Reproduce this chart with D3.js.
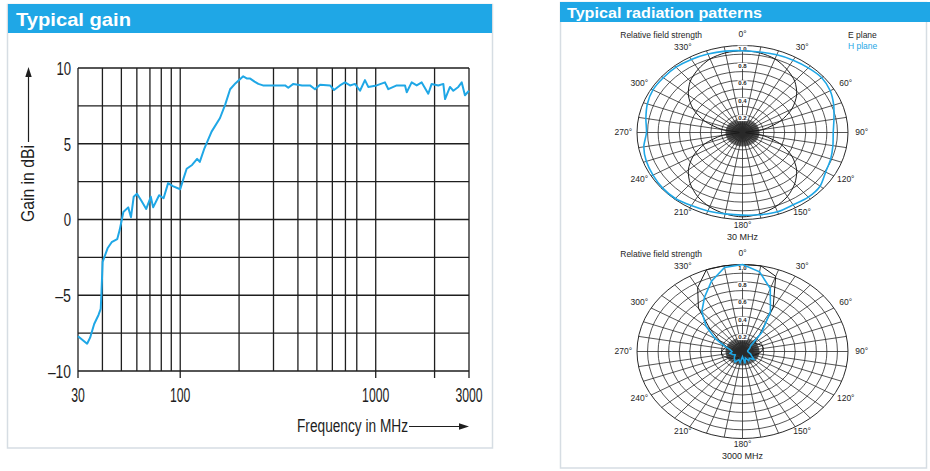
<!DOCTYPE html>
<html>
<head>
<meta charset="utf-8">
<script src="https://cdn.jsdelivr.net/npm/d3@7"></script>
<style>
  body { margin: 0; background: #fff; }
  svg { font-family: "Liberation Sans", Arial, sans-serif; }
</style>
</head>
<body>
<svg id="chart" width="930" height="471"></svg>
<script>
// typical gain
const gainFreq = [30, 33.4, 34.6, 36.3, 38.2, 39.2, 39.5, 40.1, 42.5, 44.6, 47.6, 49, 51.2, 54.2, 56, 57.8, 60.1, 63.5, 67,
  70.7, 72.7, 78, 82.2, 86.7, 91.6, 100, 103.9, 107.9, 115, 122, 125.9, 133, 144.7, 159.8, 170, 180, 192, 210, 220, 228,
  240, 251, 265, 288, 320, 344, 357, 379, 420, 461, 489, 519, 584, 612, 656, 696, 739, 783, 831, 881, 916, 1011, 1115,
  1160, 1281, 1412, 1441, 1527, 1620, 1719, 1857, 1932, 2090, 2217, 2263, 2398, 2494, 2645, 2754, 2860, 3000];
const gainDb = [-7.7, -8.2, -7.8, -6.9, -6.3, -5.9, -5.0, -2.8, -1.9, -1.5, -1.3, -0.7, 0.5, 0.8, 0.15, 1.5, 1.7, 1.2, 0.7,
  1.5, 0.8, 1.6, 1.4, 2.4, 2.2, 2.0, 2.7, 3.35, 3.6, 4.0, 3.8, 4.7, 5.8, 6.7, 7.6, 8.6, 9.0, 9.45, 9.3, 9.3,
  9.1, 8.95, 8.85, 8.85, 8.85, 8.85, 8.7, 8.95, 8.85, 8.85, 8.6, 8.9, 8.85, 8.55, 8.85, 9.05, 8.85, 8.95, 8.5, 9.2, 8.75, 8.85, 9.05,
  8.6, 8.85, 8.85, 8.4, 9.05, 8.85, 9.05, 8.3, 8.95, 8.85, 8.95, 7.95, 8.75, 8.5, 8.75, 9.05, 8.2, 8.5];

const xGridFreq = [30, 40, 50, 60, 70, 80, 90, 100, 200, 300, 400, 500, 600, 700, 800, 1000, 2000, 3000];
const xTickMarks = [30, 100, 1000, 2000, 3000];
const xTickLabels = [30, 100, 1000, 3000];
const yGridDb = [-10, -7.5, -5, -2.5, 0, 2.5, 5, 7.5, 10];
const yTickLabels = [10, 5, 0, -5, -10];

// radiation patterns, relative field strength every 10 degrees
const polarAngles = [0, 10, 20, 30, 40, 50, 60, 70, 80, 90, 100, 110, 120, 130, 140, 150, 160, 170,
  180, 190, 200, 210, 220, 230, 240, 250, 260, 270, 280, 290, 300, 310, 320, 330, 340, 350];
const angleLabels = [0, 30, 60, 90, 120, 150, 180, 210, 240, 270, 300, 330];
const ringValues = [0.1, 0.2, 0.3, 0.4, 0.5, 0.6, 0.7, 0.8, 0.9, 1.0];
const ringLabels = ["1.0", "0.8", "0.6", "0.4", "0.2"];

const ePlane30 = [0.94, 0.93, 0.9, 0.84, 0.77, 0.67, 0.54, 0.38, 0.2, 0.03, 0.2, 0.38, 0.54, 0.67, 0.77, 0.85, 0.91, 0.95,
  0.97, 0.95, 0.91, 0.85, 0.77, 0.67, 0.54, 0.38, 0.2, 0.03, 0.2, 0.38, 0.54, 0.67, 0.77, 0.84, 0.9, 0.93];
const hPlane30 = [0.94, 0.94, 0.95, 0.96, 0.97, 0.98, 0.96, 0.92, 0.88, 0.86, 0.87, 0.89, 0.91, 0.96, 0.97, 0.96, 0.97, 0.96,
  0.95, 0.95, 0.96, 0.97, 0.99, 0.99, 0.98, 0.97, 0.95, 0.91, 0.93, 0.96, 0.98, 0.98, 0.98, 0.97, 0.96, 0.95];
const ePlane3000 = [1.0, 1.0, 0.92, 0.58, 0.25, 0.15, 0.17, 0.2, 0.2, 0.18, 0.15, 0.12, 0.1, 0.08, 0.1, 0.12, 0.1, 0.08,
  0.1, 0.12, 0.1, 0.08, 0.1, 0.12, 0.15, 0.18, 0.2, 0.2, 0.18, 0.16, 0.25, 0.4, 0.65, 0.85, 1.0, 1.0];
const hPlane3000 = [1.0, 0.93, 0.77, 0.53, 0.28, 0.1, 0.08, 0.06, 0.05, 0.05, 0.06, 0.08, 0.1, 0.14, 0.1, 0.12, 0.08, 0.14,
  0.06, 0.13, 0.1, 0.14, 0.12, 0.1, 0.08, 0.1, 0.12, 0.1, 0.12, 0.18, 0.3, 0.45, 0.6, 0.72, 0.86, 0.98];

const blue = "#1fa7e6";
const ink = "#1e1e1e";
const svg = d3.select("#chart");

// ---- panels ----
svg.append("rect").attr("x", 7.5).attr("y", 4.5).attr("width", 485).attr("height", 443.5)
  .attr("fill", "#fff").attr("stroke", "#d6dde3").attr("stroke-width", 1.5);
svg.append("rect").attr("x", 8).attr("y", 4).attr("width", 484).attr("height", 29).attr("fill", blue);
svg.append("text").attr("x", 16).attr("y", 25.5).text("Typical gain")
  .attr("font-weight", "bold").attr("font-size", 19)
  .attr("textLength", 115).attr("lengthAdjust", "spacingAndGlyphs").attr("fill", "#fff");

svg.append("rect").attr("x", 560.5).attr("y", 2.5).attr("width", 366).attr("height", 465.5)
  .attr("fill", "#fff").attr("stroke", "#d6dde3").attr("stroke-width", 1.5);
svg.append("rect").attr("x", 560).attr("y", 2).attr("width", 370).attr("height", 20).attr("fill", blue);
svg.append("text").attr("x", 567).attr("y", 18).text("Typical radiation patterns")
  .attr("font-weight", "bold").attr("font-size", 15)
  .attr("textLength", 195).attr("lengthAdjust", "spacingAndGlyphs").attr("fill", "#fff");

// ---- gain chart ----
const x = d3.scaleLog().domain([30, 3000]).range([78, 469]);
const y = d3.scaleLinear().domain([-10, 10]).range([371, 68]);
const gc = svg.append("g").attr("fill", ink);

gc.selectAll(".vgrid").data(xGridFreq).enter().append("line")
  .attr("x1", d => x(d)).attr("x2", d => x(d)).attr("y1", y(10)).attr("y2", y(-10))
  .attr("stroke", ink).attr("stroke-width", 1.3);
gc.selectAll(".hgrid").data(yGridDb).enter().append("line")
  .attr("x1", x(30)).attr("x2", x(3000)).attr("y1", d => y(d)).attr("y2", d => y(d))
  .attr("stroke", ink).attr("stroke-width", 1.3);
gc.selectAll(".xtick").data(xTickMarks).enter().append("line")
  .attr("x1", d => x(d)).attr("x2", d => x(d)).attr("y1", y(-10)).attr("y2", y(-10) + 7)
  .attr("stroke", ink).attr("stroke-width", 1.3);

gc.selectAll(".xlab").data(xTickLabels).enter().append("text")
  .attr("x", d => x(d)).attr("y", 401.5).attr("text-anchor", "middle")
  .attr("font-size", 19.5).attr("textLength", d => String(d).length * 6.8)
  .attr("lengthAdjust", "spacingAndGlyphs").text(d => d);
gc.selectAll(".ylab").data(yTickLabels).enter().append("text")
  .attr("x", 71).attr("y", d => y(d) + 6.8).attr("text-anchor", "end")
  .attr("font-size", 19)
  .attr("textLength", d => (d < 0 ? 8.5 : 0) + String(Math.abs(d)).length * 7.3)
  .attr("lengthAdjust", "spacingAndGlyphs")
  .text(d => d < 0 ? "\u2013" + Math.abs(d) : d);

const gainLine = d3.line().x((d, i) => x(gainFreq[i])).y(d => y(d));
gc.append("path").datum(gainDb).attr("d", gainLine)
  .attr("fill", "none").attr("stroke", blue).attr("stroke-width", 2).attr("stroke-linejoin", "round");

// axis titles with arrows
gc.append("text").attr("transform", "translate(34,183.5) rotate(-90)").attr("text-anchor", "middle")
  .attr("font-size", 17.5).attr("textLength", 77).attr("lengthAdjust", "spacingAndGlyphs").text("Gain in dBi");
gc.append("line").attr("x1", 28.5).attr("x2", 28.5).attr("y1", 142).attr("y2", 74).attr("stroke", ink).attr("stroke-width", 1.2);
gc.append("path").attr("d", "M28.5,67 L25.3,77 L31.7,77 Z").attr("fill", ink);

gc.append("text").attr("x", 297).attr("y", 432).attr("font-size", 17.5)
  .attr("textLength", 111).attr("lengthAdjust", "spacingAndGlyphs").text("Frequency in MHz");
gc.append("line").attr("x1", 409).attr("x2", 462).attr("y1", 426.5).attr("y2", 426.5).attr("stroke", ink).attr("stroke-width", 1.2);
gc.append("path").attr("d", "M469,426.5 L459,423.3 L459,429.7 Z").attr("fill", ink);

// ---- radiation patterns ----
function polarChart(cy, title, eVals, hVals, smooth) {
  const cx = 742.5, rx = 105.5, ry = 87;
  const r = d3.scaleLinear().domain([0, 1]).range([0, 1]);
  const px = (a, v) => cx + rx * r(v) * Math.sin(a * Math.PI / 180);
  const py = (a, v) => cy - ry * r(v) * Math.cos(a * Math.PI / 180);
  const pg = svg.append("g").attr("fill", ink);

  pg.selectAll(".ring").data(ringValues).enter().append("ellipse")
    .attr("cx", cx).attr("cy", cy).attr("rx", d => rx * r(d)).attr("ry", d => ry * r(d))
    .attr("fill", "none").attr("stroke", "#2a2a2a").attr("stroke-width", d => d === 1 ? 1 : 0.8);
  pg.selectAll(".spoke").data(polarAngles).enter().append("line")
    .attr("x1", cx).attr("y1", cy).attr("x2", d => px(d, 1)).attr("y2", d => py(d, 1))
    .attr("stroke", "#2a2a2a").attr("stroke-width", 0.8);
  // the printed grid gets very dense round the centre
  pg.selectAll(".inner").data(d3.range(0, 360, 2.5)).enter().append("line")
    .attr("x1", cx).attr("y1", cy).attr("x2", d => px(d, 0.16)).attr("y2", d => py(d, 0.16))
    .attr("stroke", "#2a2a2a").attr("stroke-width", 0.7);

  // ring values along the 0 degree spoke
  const rl = pg.selectAll(".rlab").data(ringLabels).enter().append("g")
    .attr("transform", d => "translate(" + cx + "," + (py(0, +d) + 3) + ")");
  rl.append("rect").attr("x", -5).attr("y", -3).attr("width", 10).attr("height", 6).attr("fill", "#fff");
  rl.append("text").attr("text-anchor", "middle").attr("y", 2).attr("font-size", 6).attr("font-weight", "bold")
    .text(d => d);

  pg.selectAll(".alab").data(angleLabels).enter().append("text")
    .attr("x", d => px(d, 1.13))
    .attr("y", d => py(d, Math.cos(d * Math.PI / 180) >= 0 ? 1.13 : 1.06))
    .attr("dy", "0.35em").attr("text-anchor", "middle")
    .attr("font-size", 8.5).text(d => d + "\u00b0");

  const line = d3.line()
    .x((d, i) => px(polarAngles[i], d)).y((d, i) => py(polarAngles[i], d))
    .curve(smooth ? d3.curveCardinalClosed.tension(0.2) : d3.curveLinearClosed);
  pg.append("path").datum(eVals).attr("d", line)
    .attr("fill", "none").attr("stroke", "#1a1a1a").attr("stroke-width", 1);
  pg.append("path").datum(hVals).attr("d", line)
    .attr("fill", "none").attr("stroke", blue).attr("stroke-width", 1.6);

  pg.append("text").attr("x", 702).attr("y", cy - 97.5).attr("dy", "0.35em").attr("text-anchor", "end")
    .attr("font-size", 8.5).text("Relative field strength");
  pg.append("text").attr("x", cx).attr("y", cy + 104).attr("dy", "0.35em").attr("text-anchor", "middle")
    .attr("font-size", 9).text(title);
}

polarChart(132.5, "30 MHz", ePlane30, hPlane30, true);
polarChart(351.5, "3000 MHz", ePlane3000, hPlane3000, false);

svg.append("text").attr("x", 848).attr("y", 35).attr("dy", "0.35em").attr("font-size", 8.5).attr("fill", ink).text("E plane");
svg.append("text").attr("x", 848).attr("y", 46).attr("dy", "0.35em").attr("font-size", 8.5).attr("fill", blue).text("H plane");
</script>
</body>
</html>
